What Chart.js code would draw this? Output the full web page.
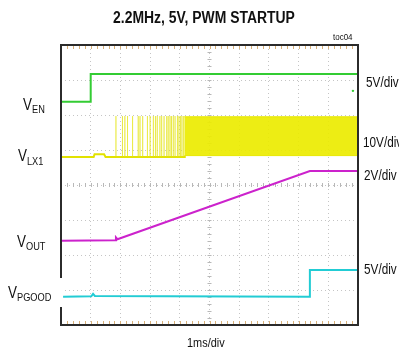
<!DOCTYPE html>
<html>
<head>
<meta charset="utf-8">
<script src="https://cdn.jsdelivr.net/npm/chart.js@4.4.1/dist/chart.umd.min.js"></script>
<style>
  body { margin: 0; background: #fff; }
  #wrap { position: relative; width: 399px; height: 352px; overflow: hidden; font-family: "Liberation Sans", Arial, sans-serif; color: #111; }
  #wrap canvas { position: absolute; left: 0; top: 0; }
  .lbl { position: absolute; white-space: nowrap; line-height: 1; transform-origin: 0 0; transform: scaleX(0.84); }
  .lbl span { position: relative; top: 3.5px; font-size: 11px; }
  .title { left: 0; width: 408px; text-align: center; font-weight: bold; font-size: 16px; top: 9.8px; transform-origin: 204px 0; transform: scaleX(0.87); }
</style>
</head>
<body>
<div id="wrap">
  <canvas id="scope"></canvas>
  <div style="position:absolute; left:58px; top:278px; width:4px; height:29px; background:#fff;"></div>
  <div class="lbl title">2.2MHz, 5V, PWM STARTUP</div>
  <div class="lbl" style="left:333px; top:31.5px; font-size:9.5px;">toc04</div>
  <div class="lbl" style="left:366px; top:74.9px; font-size:14px;">5V/div</div>
  <div class="lbl" style="left:363px; top:134.9px; font-size:14px;">10V/div</div>
  <div class="lbl" style="left:363.5px; top:167.7px; font-size:14px;">2V/div</div>
  <div class="lbl" style="left:364px; top:262.2px; font-size:14px;">5V/div</div>
  <div class="lbl" style="left:187px; top:335.7px; font-size:13px;">1ms/div</div>
  <div class="lbl" style="left:23px; top:96.5px; font-size:16px;">V<span>EN</span></div>
  <div class="lbl" style="left:18px; top:148.2px; font-size:16px;">V<span>LX1</span></div>
  <div class="lbl" style="left:17px; top:233.8px; font-size:16px;">V<span>OUT</span></div>
  <div class="lbl" style="left:8px; top:284.8px; font-size:16px;">V<span>PGOOD</span></div>
</div>
<script>
// time in ms (1ms/div), level in screen divisions (0 = bottom, 8 = top)
const timeTicks = [0, 1, 2, 3, 4, 5, 6, 7, 8, 9, 10];
const divTicks = [0, 1, 2, 3, 4, 5, 6, 7, 8];

const enTime = [0, 1.0, 1.0, 10];
const enLevel = [6.38, 6.38, 7.17, 7.17];
const enStray = [{ x: 9.83, y: 6.69 }];

const lxBaseTime = [0, 1.1, 1.13, 1.45, 1.5, 4.2];
const lxBaseLevel = [4.8, 4.8, 4.88, 4.88, 4.8, 4.8];
const lxLow = 4.8;
const lxHigh = 5.97;
const lxSpikes = [1.85, 2.07, 2.15, 2.24, 2.41, 2.6, 2.66, 2.75, 2.91, 3.0, 3.11, 3.18, 3.24, 3.33,
  3.39, 3.47, 3.56, 3.61, 3.67, 3.72, 3.78, 3.84, 3.92, 3.97, 4.02, 4.07, 4.12];
const lxBandTime = [4.15, 10];
const lxBandTop = [5.95, 5.95];
const lxBandBottom = [4.84, 4.84];

const outTime = [0, 1.82, 1.85, 1.9, 8.38, 10];
const outLevel = [2.41, 2.42, 2.5, 2.45, 4.4, 4.4];

const pgTime = [0.07, 1.02, 1.08, 1.14, 8.38, 8.38, 10];
const pgLevel = [0.81, 0.82, 0.89, 0.83, 0.81, 1.57, 1.57];

const pts = (xs, ys) => xs.map((x, i) => ({ x, y: ys[i] }));

const spikePts = [];
lxSpikes.forEach(t => {
  spikePts.push({ x: t, y: lxLow }, { x: t, y: lxHigh }, { x: t, y: lxLow });
});

const trace = (data, color, width) => ({
  data, borderColor: color, borderWidth: width, showLine: true,
  pointRadius: 0, fill: false, tension: 0,
});

const scopeDecor = {
  id: "scopeDecor",
  beforeDatasetsDraw(chart) {
    const { ctx, chartArea: a, scales: { x, y } } = chart;
    ctx.save();
    ctx.lineWidth = 1;
    // minor ticks on the centre lines
    ctx.strokeStyle = "#b8b8b8";
    const cy = y.getPixelForValue(4);
    const cx = x.getPixelForValue(5);
    ctx.beginPath();
    for (let v = 0; v <= 10.001; v += 0.2) {
      const px = Math.round(x.getPixelForValue(v)) + 0.5;
      ctx.moveTo(px, cy - 2); ctx.lineTo(px, cy + 2);
    }
    for (let v = 0; v <= 8.001; v += 0.2) {
      const py = Math.round(y.getPixelForValue(v)) + 0.5;
      ctx.moveTo(cx - 2, py); ctx.lineTo(cx + 2, py);
    }
    ctx.stroke();
    // tan ticks along top and bottom edges
    ctx.strokeStyle = "#d8b078";
    ctx.beginPath();
    for (let v = 0.2; v < 10; v += 0.2) {
      const px = Math.round(x.getPixelForValue(v)) + 0.5;
      ctx.moveTo(px, a.top + 1); ctx.lineTo(px, a.top + 4);
      ctx.moveTo(px, a.bottom - 1); ctx.lineTo(px, a.bottom - 4);
    }
    ctx.stroke();
    ctx.restore();
  },
  afterDatasetsDraw(chart) {
    const { ctx, chartArea: a } = chart;
    ctx.save();
    ctx.strokeStyle = "#2b2b2b";
    ctx.lineWidth = 2;
    ctx.strokeRect(a.left, a.top, a.right - a.left, a.bottom - a.top);
    ctx.restore();
  },
};

new Chart(document.getElementById("scope"), {
  type: "scatter",
  data: {
    datasets: [
      { ...trace(pts(lxBandTime, lxBandTop), "#e8e800", 1) },
      { ...trace(pts(lxBandTime, lxBandBottom), "#e8e800", 1), fill: "-1", backgroundColor: "rgba(236,236,0,0.92)" },
      trace(spikePts, "rgba(228,228,20,0.55)", 1),
      trace(pts(lxBaseTime, lxBaseLevel), "#e2e200", 2),
      trace(pts(outTime, outLevel), "#cc22cc", 2),
      trace(pts(pgTime, pgLevel), "#22ccd4", 2),
      trace(pts(enTime, enLevel), "#33cc33", 2),
      { data: enStray, pointRadius: 1.2, backgroundColor: "#33cc33", borderWidth: 0, showLine: false },
    ],
  },
  options: {
    responsive: true,
    maintainAspectRatio: false,
    animation: false,
    layout: { padding: { left: 61, right: 41, top: 45, bottom: 27 } },
    plugins: { legend: { display: false }, tooltip: { enabled: false }, title: { display: false } },
    scales: {
      x: {
        type: "linear", min: 0, max: 10,
        afterBuildTicks: s => { s.ticks = timeTicks.map(v => ({ value: v })); },
        ticks: { display: false },
        grid: { color: "rgba(150,150,150,0.55)", drawTicks: false },
        border: { display: false, dash: [1, 3] },
      },
      y: {
        type: "linear", min: 0, max: 8,
        afterBuildTicks: s => { s.ticks = divTicks.map(v => ({ value: v })); },
        ticks: { display: false },
        grid: { color: "rgba(150,150,150,0.55)", drawTicks: false },
        border: { display: false, dash: [1, 3] },
      },
    },
  },
  plugins: [scopeDecor],
});
</script>
</body>
</html>
